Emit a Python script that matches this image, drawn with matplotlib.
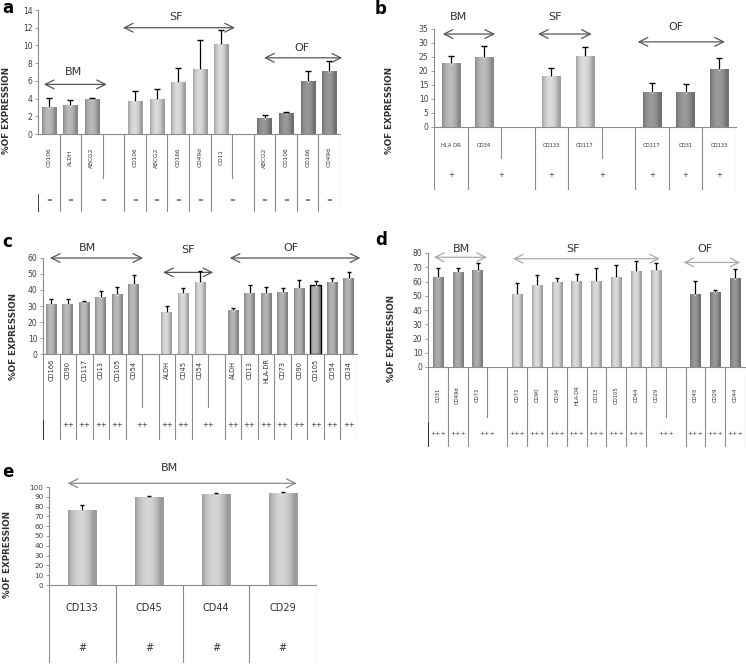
import matplotlib
matplotlib.use("Agg")
import matplotlib.pyplot as plt
import numpy as np
from matplotlib.colors import to_rgb

W, H = 746, 664

# ---------------- data ----------------
a_labels = ["CD106", "ALDH", "ABCG2", "", "CD106", "ABCG2", "CD166", "CD49d", "CD11", "",
            "ABCG2", "CD106", "CD166", "CD49d"]
a_groups = ["BM", "BM", "BM", "", "SF", "SF", "SF", "SF", "SF", "", "OF", "OF", "OF", "OF"]
a_vals = [3.1, 3.3, 3.9, None, 3.7, 3.9, 5.9, 7.3, 10.2, None, 1.85, 2.4, 6.0, 7.15]
a_errs = [1.0, 0.5, 0.2, None, 1.2, 1.2, 1.6, 3.3, 1.5, None, 0.25, 0.1, 1.1, 1.05]
a_mark = "="

b_labels = ["HLA DR", "CD34", "", "CD133", "CD117", "", "CD117", "CD31", "CD133"]
b_groups = ["BM", "BM", "", "SF", "SF", "", "OF", "OF", "OF"]
b_vals = [22.8, 24.9, None, 18.2, 25.2, None, 12.6, 12.6, 20.7]
b_errs = [2.4, 3.9, None, 2.8, 3.2, None, 3.0, 2.6, 4.1]
b_mark = "+"

c_labels = ["CD166", "CD90", "CD117", "CD13", "CD105", "CD54", "", "ALDH", "CD45", "CD54", "",
            "ALDH", "CD13", "HLA-DR", "CD73", "CD90", "CD105", "CD54", "CD34"]
c_groups = ["BM"] * 6 + [""] + ["SF"] * 3 + [""] + ["OF"] * 8
c_vals = [31.2, 31.2, 32.3, 35.8, 37.5, 43.8, None, 26.4, 38.3, 44.7, None,
          27.4, 37.9, 37.9, 39.0, 41.1, 43.2, 45.3, 47.4]
c_errs = [3.0, 3.0, 0.6, 3.8, 4.2, 5.7, None, 3.6, 2.8, 6.9, None,
          1.5, 5.3, 3.8, 2.1, 5.2, 2.7, 2.1, 3.6]
c_mark = "++"

d_labels = ["CD31", "CD49d", "CD73", "", "CD73", "CD90", "CD34", "HLA-DR", "CD13", "CD105",
            "CD44", "CD29", "", "CD45", "CD29", "CD44"]
d_groups = ["BM"] * 3 + [""] + ["SF"] * 8 + [""] + ["OF"] * 3
d_vals = [63.2, 66.7, 67.8, None, 51.0, 57.3, 59.7, 60.4, 60.4, 63.2, 67.4, 68.3, None,
          51.0, 52.7, 62.7]
d_errs = [6.3, 3.0, 5.2, None, 8.0, 7.0, 2.8, 4.6, 9.1, 8.1, 7.0, 4.7, None, 9.4, 1.1, 6.3]
d_mark = "+++"

e_labels = ["CD133", "CD45", "CD44", "CD29"]
e_groups = ["BM"] * 4
e_vals = [76.3, 89.8, 92.6, 93.6]
e_errs = [5.1, 0.7, 1.0, 1.0]
e_mark = "#"

GRID = "#8c8c8c"
TXT = "#404040"


def rect(x0, y0, x1, y1):
    return [x0 / W, 1 - y1 / H, (x1 - x0) / W, (y1 - y0) / H]


def shade(ax, bars, color):
    c = np.array(to_rgb(color))
    t = np.linspace(0, 1, 40)
    prof = 0.80 + 0.30 * np.sin(np.pi * np.clip(t * 1.15, 0, 1)) ** 0.7
    img = np.clip(c[None, :] * prof[:, None], 0, 1)[None, :, :]
    for b in bars:
        x, y, w, h = b.get_x(), b.get_y(), b.get_width(), b.get_height()
        im = ax.imshow(img, extent=[x, x + w, y, y + h], aspect="auto",
                       interpolation="bilinear", zorder=2)
        im.set_clip_path(b)


def panel(letter, cfg, labels, groups, vals, errs, mark):
    n = len(labels)
    x0, y0, x1, y1, yb = cfg["box"]
    ax = fig.add_axes(rect(x0, y0, x1, y1))
    tax = fig.add_axes(rect(x0, y1, x1, yb))

    idx = [i for i in range(n) if vals[i] is not None]
    for g, col in cfg["colors"].items():
        sel = [i for i in idx if groups[i] == g]
        bars = ax.bar(sel, [vals[i] for i in sel], width=cfg["width"], color=col,
                      edgecolor="none", zorder=2)
        shade(ax, bars, col)
    for i in cfg.get("outlined", []):
        ax.bar(i, vals[i], width=cfg["width"], fill=False, edgecolor="black", lw=1.0, zorder=3)
    xs = np.array(idx)
    v = np.array([vals[i] for i in idx])
    e = np.array([errs[i] for i in idx])
    ax.vlines(xs, v, v + e, color="black", lw=0.9, zorder=4)
    ax.plot(xs, v + e, ls="none", marker="_", ms=cfg["cap"], mew=1.0, color="black", zorder=4)
    ax.plot(xs, v, ls="none", marker="v", ms=2.6, color="white", mec="none", zorder=3.5)

    ax.set_xlim(-0.5, n - 0.5)
    ax.set_ylim(0, cfg["ymax"])
    ax.set_yticks(np.arange(0, cfg["ymax"] + 0.1, cfg["ystep"]))
    ax.tick_params(axis="y", labelsize=cfg["tfs"], colors=TXT, length=2, width=0.6, pad=2)
    ax.tick_params(axis="y", color=GRID)
    ax.set_xticks([])
    for s in ("top", "right"):
        ax.spines[s].set_visible(False)
    for s in ("left", "bottom"):
        ax.spines[s].set_color(GRID)
        ax.spines[s].set_linewidth(0.8)
    ax.patch.set_alpha(0)

    for (a0, a1, ay, tx, ty, txt) in cfg["arrows"]:
        ax.annotate("", xy=(a1, ay), xytext=(a0, ay), annotation_clip=False,
                    arrowprops=dict(arrowstyle="<->,head_length=0.7,head_width=0.35",
                                    color=cfg["acol"], lw=0.9, shrinkA=0, shrinkB=0,
                                    mutation_scale=9))
        ax.text(tx, ty, txt, ha="center", va="center", fontsize=8, color="#333333",
                clip_on=False)

    # data table under the axis
    tax.set_xlim(-0.5, n - 0.5)
    tax.set_ylim(0, 1)
    tax.axis("off")
    for k in range(1, n + 1):
        xb = k - 0.5
        short = k < n and vals[k] is None
        tax.plot([xb, xb], [1, 1 - cfg["short"] if short else 0], color=GRID, lw=0.8)
    if cfg["left"]:
        tax.plot([-0.5, -0.5], [1, 0], color=GRID, lw=0.8)
    if cfg.get("dark"):
        tax.plot([-0.5, -0.5], [cfg["dark"], 0], color="#222222", lw=1.2)
    for i in range(n):
        if vals[i] is None:
            continue
        ax_rot = cfg["rot"]
        tax.text(i, 1 - cfg["lab_y"], labels[i], rotation=ax_rot, ha="center", va="center",
                 fontsize=cfg["lfs"], color="#333333")
        if i == 0 and cfg.get("nofirst"):
            continue
        mx = i + 0.5 if (i + 1 < n and vals[i + 1] is None) else i
        tax.text(mx, 1 - cfg["mark_y"], mark, ha="center", va="center",
                 fontsize=cfg["mfs"], color="#333333")

    fig.text(cfg["letter"][0] / W, 1 - cfg["letter"][1] / H, letter, fontsize=12,
             fontweight="bold", ha="center", va="center")
    fig.text(cfg["ylab"][0] / W, 1 - cfg["ylab"][1] / H, "%OF EXPRESSION", rotation=90,
             fontsize=6.3, fontweight="bold", color="#333333", ha="center", va="center")
    return ax


fig = plt.figure(figsize=(W / 100, H / 100), dpi=100)

cfg_a = dict(box=(38, 10, 340, 134, 212), ymax=14, ystep=2, tfs=5.5, width=0.66, cap=4,
             colors={"BM": "#a9a9a9", "SF": "#c6c6c6", "OF": "#8a8a8a"}, acol="#555555",
             arrows=[(-0.23, 2.69, 5.6, 1.15, 7.0, "BM"), (3.44, 8.63, 12.0, 5.9, 13.2, "SF"),
                     (9.98, 13.6, 8.6, 11.75, 9.7, "OF")],
             short=0.56, left=False, dark=0.22, rot=90, lab_y=0.3, mark_y=0.85, lfs=4.2, mfs=5,
             letter=(8, 8), ylab=(7, 110))
cfg_b = dict(box=(434, 29, 736, 127, 190), ymax=35, ystep=5, tfs=5.5, width=0.55, cap=4,
             colors={"BM": "#ababab", "SF": "#c8c8c8", "OF": "#8c8c8c"}, acol="#555555",
             arrows=[(-0.24, 1.32, 33.2, 0.24, 39.3, "BM"), (2.6, 4.2, 33.2, 3.1, 39.3, "SF"),
                     (5.57, 8.17, 30.4, 6.7, 35.7, "OF")],
             short=0.49, left=True, rot=0, lab_y=0.29, mark_y=0.76, lfs=3.8, mfs=5,
             letter=(381, 9), ylab=(390, 111))
cfg_c = dict(box=(43, 258, 357, 354, 440), ymax=60, ystep=10, tfs=5.5, width=0.66, cap=3.5,
             colors={"BM": "#a9a9a9", "SF": "#c6c6c6", "OF": "#a3a3a3"}, acol="#555555",
             arrows=[(-0.08, 5.56, 60, 2.2, 66, "BM"), (6.77, 9.8, 51, 8.3, 65, "SF"),
                     (10.8, 18.7, 60, 14.5, 66, "OF")],
             short=0.62, left=True, dark=0.22, rot=90, lab_y=0.19, mark_y=0.83, lfs=4.8, mfs=5,
             nofirst=True, outlined=[16], letter=(7, 242), ylab=(13, 336))
cfg_d = dict(box=(428, 253, 745, 367, 447), ymax=80, ystep=10, tfs=5.5, width=0.52, cap=3.5,
             colors={"BM": "#9c9c9c", "SF": "#c6c6c6", "OF": "#8a8a8a"}, acol="#aaaaaa",
             arrows=[(-0.2, 2.48, 77, 1.17, 83, "BM"), (3.79, 11.2, 76, 6.8, 83, "SF"),
                     (12.4, 15.26, 73.4, 13.5, 83, "OF")],
             short=0.62, left=True, dark=0.3, rot=90, lab_y=0.35, mark_y=0.83, lfs=3.8, mfs=4.5,
             letter=(381, 240), ylab=(392, 338))
cfg_e = dict(box=(49, 487, 316, 585, 663), ymax=100, ystep=10, tfs=5.2, width=0.42, cap=3.5,
             colors={"BM": "#c2c2c2"}, acol="#888888",
             arrows=[(-0.22, 3.21, 103.8, 1.31, 119, "BM")],
             short=0.5, left=True, rot=0, lab_y=0.29, mark_y=0.81, lfs=7, mfs=7,
             letter=(8, 472), ylab=(8, 555))

panel("a", cfg_a, a_labels, a_groups, a_vals, a_errs, a_mark)
panel("b", cfg_b, b_labels, b_groups, b_vals, b_errs, b_mark)
panel("c", cfg_c, c_labels, c_groups, c_vals, c_errs, c_mark)
panel("d", cfg_d, d_labels, d_groups, d_vals, d_errs, d_mark)
panel("e", cfg_e, e_labels, e_groups, e_vals, e_errs, e_mark)

fig.savefig("out.png", dpi=100)
